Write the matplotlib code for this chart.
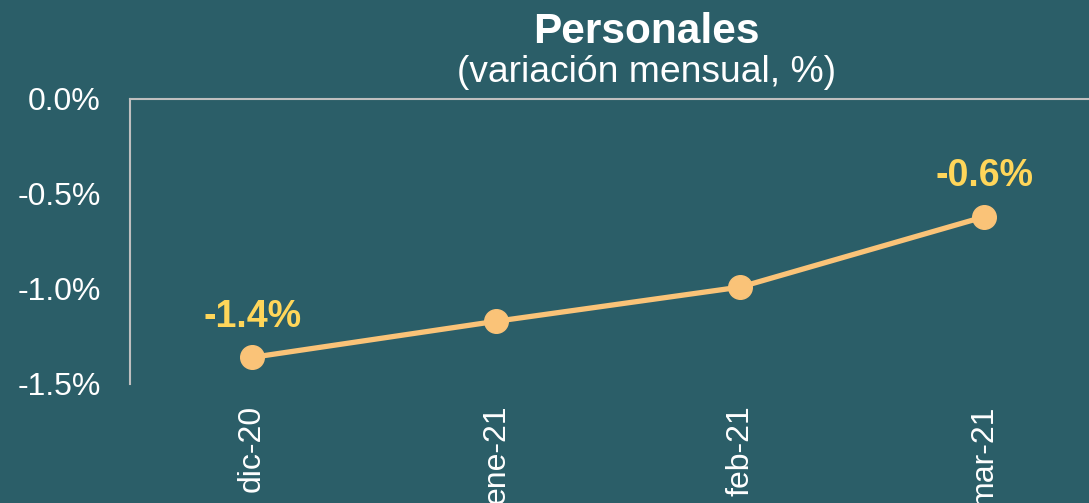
"""Personales: variacion mensual (%) line chart."""
import matplotlib
matplotlib.use("Agg")
import matplotlib.pyplot as plt

months = ["dic-20", "ene-21", "feb-21", "mar-21"]
values = [-1.36, -1.17, -0.99, -0.62]
yticks = [0.0, -0.5, -1.0, -1.5]

BG = "#2B5E68"
LINE = "#FAC378"
LABEL = "#FFD65A"
SPINE = "#BFBFBF"

plt.rcParams["font.family"] = ["Liberation Sans", "DejaVu Sans"]


def main():
    fig = plt.figure(figsize=(10.89, 5.03), dpi=100, facecolor=BG)
    ax = fig.add_axes([0.1194, 0.2366, 0.8965, 0.5666], facecolor=BG)

    x = list(range(len(months)))
    ax.plot(x, values, color=LINE, lw=3.8, marker="o", ms=17,
            solid_capstyle="round", clip_on=False, zorder=3)

    # only first and last points are labelled
    for i in (0, len(values) - 1):
        ax.annotate(f"{values[i]:.1f}%", (x[i], values[i]),
                    xytext=(0, 22), textcoords="offset points",
                    ha="center", va="baseline", color=LABEL,
                    fontsize=27, fontweight="bold")

    ax.set_xlim(-0.5, len(months) - 0.5)
    ax.set_ylim(-1.5, 0.0)
    ax.set_yticks(yticks)
    ax.set_yticklabels([f"{v:.1f}%" for v in yticks])
    ax.set_xticks(x)
    ax.set_xticklabels(months, rotation=90)

    ax.tick_params(axis="y", length=0, pad=21, labelsize=23, labelcolor="white")
    ax.tick_params(axis="x", length=0, pad=15, labelsize=23, labelcolor="white")

    for side in ("right", "bottom"):
        ax.spines[side].set_visible(False)
    for side in ("top", "left"):
        ax.spines[side].set_color(SPINE)
        ax.spines[side].set_linewidth(1.5)

    fig.text(0.594, 0.9145, "Personales", ha="center", va="baseline",
             color="white", fontsize=30.5, fontweight="bold")
    fig.text(0.594, 0.837, "(variación mensual, %)", ha="center",
             va="baseline", color="white", fontsize=26.8)

    fig.savefig("out.png", dpi=100, facecolor=BG)


if __name__ == "__main__":
    main()
